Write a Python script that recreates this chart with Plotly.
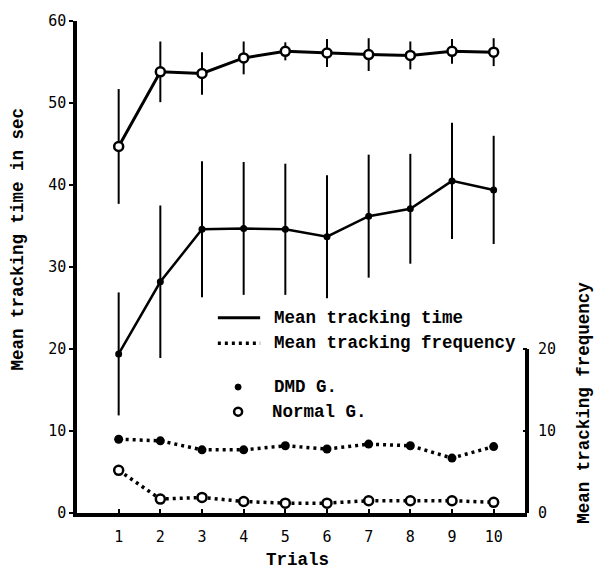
import plotly.graph_objects as go

# ---- data ----
trials = [1, 2, 3, 4, 5, 6, 7, 8, 9, 10]
trial_labels = ["1", "2", "3", "4", "5", "6", "7", "8", "9", "10"]

normal_time = [44.7, 53.8, 53.6, 55.5, 56.3, 56.1, 55.9, 55.8, 56.3, 56.2]
normal_time_err = [7.0, 3.7, 2.6, 2.0, 1.1, 1.7, 2.0, 1.7, 1.5, 1.7]

dmd_time = [19.4, 28.2, 34.6, 34.7, 34.6, 33.7, 36.2, 37.1, 40.5, 39.4]
dmd_time_err = [7.5, 9.3, 8.3, 8.1, 8.0, 7.5, 7.5, 6.7, 7.1, 6.6]

dmd_freq = [9.0, 8.8, 7.7, 7.7, 8.2, 7.8, 8.4, 8.2, 6.7, 8.1]
normal_freq = [5.2, 1.7, 1.9, 1.4, 1.2, 1.2, 1.5, 1.5, 1.5, 1.3]

left_ticks = [0, 10, 20, 30, 40, 50, 60]
right_ticks = [0, 10, 20]

TYPE_FONT = "Liberation Mono"
NUM_FONT = "DejaVu Sans Mono"

fig = go.Figure()

# Normal group, tracking time
fig.add_trace(go.Scatter(
    x=trials, y=normal_time, mode="lines+markers",
    line=dict(color="black", width=3),
    marker=dict(symbol="circle", size=9, color="white", line=dict(color="black", width=2.5)),
    error_y=dict(type="data", array=normal_time_err, color="black", thickness=2, width=0),
    showlegend=False,
))

# DMD group, tracking time
fig.add_trace(go.Scatter(
    x=trials, y=dmd_time, mode="lines+markers",
    line=dict(color="black", width=2.5),
    marker=dict(symbol="circle", size=7, color="black"),
    error_y=dict(type="data", array=dmd_time_err, color="black", thickness=2, width=0),
    showlegend=False,
))

# DMD group, tracking frequency
fig.add_trace(go.Scatter(
    x=trials, y=dmd_freq, mode="lines+markers", yaxis="y2",
    line=dict(color="black", width=3.5, dash="3px,4px"),
    marker=dict(symbol="circle", size=9, color="black"),
    showlegend=False,
))

# Normal group, tracking frequency
fig.add_trace(go.Scatter(
    x=trials, y=normal_freq, mode="lines+markers", yaxis="y2",
    line=dict(color="black", width=3.5, dash="3px,4px"),
    marker=dict(symbol="circle", size=9, color="white", line=dict(color="black", width=2.5)),
    showlegend=False,
))

# ---- legend (drawn manually to match placement) ----
Y_TIME, Y_FREQ, Y_DMD, Y_NORM = 0.397, 0.345, 0.256, 0.206
shapes = [
    # right axis line (only spans 0..20)
    dict(type="line", xref="paper", yref="y2", x0=1, x1=1, y0=0, y1=20,
         line=dict(color="black", width=4)),
    # solid line sample
    dict(type="line", xref="paper", yref="paper", x0=0.313, x1=0.407, y0=Y_TIME, y1=Y_TIME,
         line=dict(color="black", width=3)),
    # dotted line sample
    dict(type="line", xref="paper", yref="paper", x0=0.313, x1=0.407, y0=Y_FREQ, y1=Y_FREQ,
         line=dict(color="black", width=3.5, dash="3px,4px")),
    # filled dot sample
    dict(type="circle", xref="paper", yref="paper", xsizemode="pixel", ysizemode="pixel",
         xanchor=0.358, yanchor=Y_DMD, x0=-3, x1=3, y0=-3, y1=3,
         fillcolor="black", line=dict(color="black", width=1)),
    # open circle sample
    dict(type="circle", xref="paper", yref="paper", xsizemode="pixel", ysizemode="pixel",
         xanchor=0.358, yanchor=Y_NORM, x0=-4, x1=4, y0=-4, y1=4,
         fillcolor="white", line=dict(color="black", width=2.5)),
]

legend_font = dict(family=TYPE_FONT, size=17.5, color="black")
annotations = [
    dict(text="<b>Mean tracking time</b>", x=0.433, y=Y_TIME, xref="paper", yref="paper",
         xanchor="left", yanchor="middle", showarrow=False, font=legend_font),
    dict(text="<b>Mean tracking frequency</b>", x=0.433, y=Y_FREQ, xref="paper", yref="paper",
         xanchor="left", yanchor="middle", showarrow=False, font=legend_font),
    dict(text="<b>DMD G.</b>", x=0.433, y=Y_DMD, xref="paper", yref="paper",
         xanchor="left", yanchor="middle", showarrow=False, font=legend_font),
    dict(text="<b>Normal G.</b>", x=0.428, y=Y_NORM, xref="paper", yref="paper",
         xanchor="left", yanchor="middle", showarrow=False, font=legend_font),
    # axis titles
    dict(text="<b>Mean tracking time in sec</b>", x=-0.131, y=0.556, xref="paper", yref="paper",
         xanchor="center", yanchor="middle", textangle=-90, showarrow=False, font=legend_font),
    dict(text="<b>Mean tracking frequency</b>", x=1.1267, y=0.224, xref="paper", yref="paper",
         xanchor="center", yanchor="middle", textangle=-90, showarrow=False, font=legend_font,
         borderpad=0),
    dict(text="<b>Trials</b>", x=0.491, y=-0.095, xref="paper", yref="paper",
         xanchor="center", yanchor="middle", showarrow=False, font=legend_font),
]

tick_font = dict(family=NUM_FONT, size=15, color="black")

fig.update_layout(
    width=596, height=571,
    margin=dict(l=77, r=69, t=17, b=58, pad=0),
    paper_bgcolor="white", plot_bgcolor="white",
    showlegend=False,
    xaxis=dict(range=[0, 10.8], tickvals=trials, ticktext=trial_labels,
               ticks="inside", ticklen=4, tickwidth=2, tickcolor="black",
               showline=True, linewidth=4, linecolor="black",
               showgrid=False, zeroline=False, tickfont=tick_font,
               ticklabelstandoff=7),
    yaxis=dict(range=[0, 60], tickvals=left_ticks,
               ticks="outside", ticklen=4, tickwidth=2, tickcolor="black",
               showline=True, linewidth=3.5, linecolor="black",
               showgrid=False, zeroline=False, tickfont=tick_font),
    yaxis2=dict(range=[0, 60], tickvals=right_ticks, overlaying="y", side="right",
                ticks="inside", ticklen=4, tickwidth=2, tickcolor="black",
                showline=False, showgrid=False, zeroline=False, tickfont=tick_font,
                ticklabelstandoff=10),
    shapes=shapes,
    annotations=annotations,
)

fig.write_html("out.html")
